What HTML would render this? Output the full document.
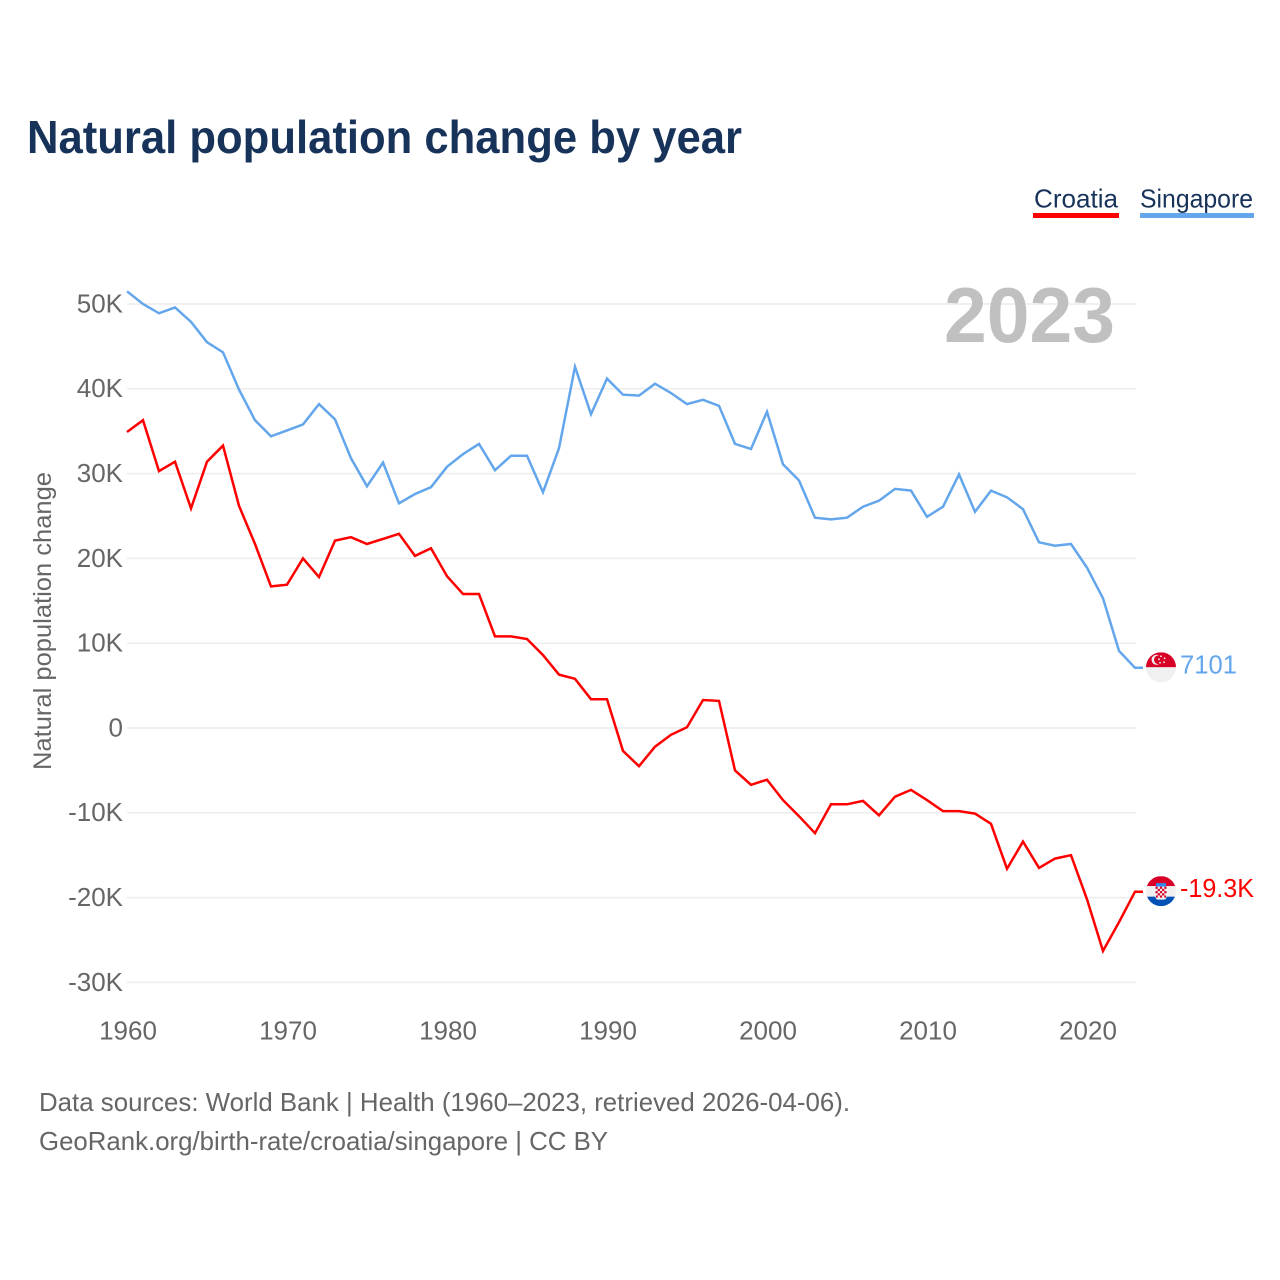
<!DOCTYPE html>
<html lang="en">
<head>
<meta charset="utf-8">
<title>Natural population change by year</title>
<style>
  html, body { margin: 0; padding: 0; background: #fff; }
  svg { display: block; }
  text { font-family: "Liberation Sans", sans-serif; }
</style>
</head>
<body>
<svg id="chart" xmlns="http://www.w3.org/2000/svg" width="1280" height="1280" viewBox="0 0 1280 1280">
  <defs>
    <clipPath id="flag-clip"><circle cx="0" cy="0" r="15"></circle></clipPath>
  </defs>
  <rect x="0" y="0" width="1280" height="1280" fill="#ffffff"></rect>

  <text x="27" y="153" font-size="46" font-weight="700" fill="#17335a" textLength="715" lengthAdjust="spacingAndGlyphs">Natural population change by year</text>

  <g>
    <g>
      <text x="1034" y="207.5" font-size="26" fill="#17335a" textLength="84" lengthAdjust="spacingAndGlyphs">Croatia</text>
      <rect x="1033" y="213" width="86" height="5" fill="#ff0000"></rect>
    </g>
    <g>
      <text x="1140" y="207.5" font-size="26" fill="#17335a" textLength="113" lengthAdjust="spacingAndGlyphs">Singapore</text>
      <rect x="1140" y="213" width="114" height="5" fill="#63a6ec"></rect>
    </g>
  </g>

  <g id="grid"></g>
  <g id="y-ticks"></g>
  <g id="x-ticks"></g>

  <text transform="translate(51 621) rotate(-90)" text-anchor="middle" font-size="25" fill="#666666" textLength="298" lengthAdjust="spacingAndGlyphs">Natural population change</text>

  <text x="944" y="342" font-size="78" font-weight="700" fill="#c0c0c0" textLength="171" lengthAdjust="spacingAndGlyphs">2023</text>

  <path id="line-singapore" fill="none" stroke="#63a6ec" stroke-width="2.5" stroke-linejoin="miter"></path>
  <path id="line-croatia" fill="none" stroke="#ff0000" stroke-width="2.5" stroke-linejoin="miter"></path>

  <g id="flag-singapore">
    <g clip-path="url(#flag-clip)">
      <rect x="-15" y="-15" width="30" height="15" fill="#d80027"></rect>
      <rect x="-15" y="0" width="30" height="15" fill="#f0f0f0"></rect>
      <circle cx="-4.5" cy="-7.5" r="5" fill="#f0f0f0"></circle>
      <circle cx="-2.6" cy="-7.5" r="4.4" fill="#d80027"></circle>
      <circle cx="0" cy="-11" r="0.9" fill="#f0f0f0"></circle>
      <circle cx="3.6" cy="-9" r="0.9" fill="#f0f0f0"></circle>
      <circle cx="3" cy="-5" r="0.9" fill="#f0f0f0"></circle>
      <circle cx="-1" cy="-4.5" r="0.9" fill="#f0f0f0"></circle>
      <circle cx="-2" cy="-8" r="0.9" fill="#f0f0f0"></circle>
    </g>
  </g>
  <g id="flag-croatia">
    <g clip-path="url(#flag-clip)">
      <rect x="-15" y="-15" width="30" height="10" fill="#d80027"></rect>
      <rect x="-15" y="-5" width="30" height="10.5" fill="#f0f0f0"></rect>
      <rect x="-15" y="5.5" width="30" height="10" fill="#0052b4"></rect>
      <rect x="-5" y="-8" width="10" height="3.5" fill="#338af3"></rect>
      <rect x="-5.5" y="-4.5" width="11" height="13" rx="2.5" fill="#f0f0f0"></rect>
      <g fill="#d80027">
        <rect x="-5.5" y="-4.5" width="2.2" height="2.2"></rect>
        <rect x="-1.1" y="-4.5" width="2.2" height="2.2"></rect>
        <rect x="3.3" y="-4.5" width="2.2" height="2.2"></rect>
        <rect x="-3.3" y="-2.3" width="2.2" height="2.2"></rect>
        <rect x="1.1" y="-2.3" width="2.2" height="2.2"></rect>
        <rect x="-5.5" y="-0.1" width="2.2" height="2.2"></rect>
        <rect x="-1.1" y="-0.1" width="2.2" height="2.2"></rect>
        <rect x="3.3" y="-0.1" width="2.2" height="2.2"></rect>
        <rect x="-3.3" y="2.1" width="2.2" height="2.2"></rect>
        <rect x="1.1" y="2.1" width="2.2" height="2.2"></rect>
        <rect x="-5" y="4.3" width="1.7" height="2.2"></rect>
        <rect x="-1.1" y="4.3" width="2.2" height="2.2"></rect>
        <rect x="3.3" y="4.3" width="1.7" height="2.2"></rect>
      </g>
    </g>
  </g>
  <text id="end-label-singapore" x="1180" font-size="26" fill="#63a6ec" textLength="57" lengthAdjust="spacingAndGlyphs">7101</text>
  <text id="end-label-croatia" x="1180" font-size="26" fill="#ff0000" textLength="74" lengthAdjust="spacingAndGlyphs">-19.3K</text>

  <text x="39" y="1111" font-size="26" fill="#666666" textLength="811" lengthAdjust="spacingAndGlyphs">Data sources: World Bank | Health (1960–2023, retrieved 2026-04-06).</text>
  <text x="39" y="1150" font-size="26" fill="#666666" textLength="569" lengthAdjust="spacingAndGlyphs">GeoRank.org/birth-rate/croatia/singapore | CC BY</text>
</svg>

<script>
const firstYear = 1960;
const xTickYears = [1960, 1970, 1980, 1990, 2000, 2010, 2020];
const yTickValues = [50, 40, 30, 20, 10, 0, -10, -20, -30];
const yTickLabels = ["50K", "40K", "30K", "20K", "10K", "0", "-10K", "-20K", "-30K"];
const singaporeValues = [51.5, 50.0, 48.9, 49.6, 47.9, 45.5, 44.3, 39.9, 36.3, 34.4, 35.1, 35.8, 38.2, 36.4, 31.8, 28.5, 31.3, 26.5, 27.6, 28.4, 30.8, 32.3, 33.5, 30.4, 32.1, 32.1, 27.8, 33.0, 42.6, 37.0, 41.2, 39.3, 39.2, 40.6, 39.5, 38.2, 38.7, 38.0, 33.5, 32.9, 37.3, 31.1, 29.2, 24.8, 24.6, 24.8, 26.1, 26.8, 28.2, 28.0, 24.9, 26.1, 29.9, 25.5, 28.0, 27.2, 25.8, 21.9, 21.5, 21.7, 18.9, 15.3, 9.1, 7.1];
const croatiaValues = [34.9, 36.3, 30.3, 31.4, 25.9, 31.4, 33.3, 26.2, 21.7, 16.7, 16.9, 20.0, 17.8, 22.1, 22.5, 21.7, 22.3, 22.9, 20.3, 21.2, 17.9, 15.8, 15.8, 10.8, 10.8, 10.5, 8.6, 6.3, 5.8, 3.4, 3.4, -2.7, -4.5, -2.2, -0.8, 0.1, 3.3, 3.2, -5.0, -6.7, -6.1, -8.5, -10.4, -12.4, -9.0, -9.0, -8.6, -10.3, -8.1, -7.3, -8.5, -9.8, -9.8, -10.1, -11.3, -16.6, -13.4, -16.5, -15.4, -15.0, -20.2, -26.3, -22.9, -19.3];

const SVG_NS = "http://www.w3.org/2000/svg";
function xScale(year) { return 127 + (year - 1960) * 16.0; }
function yScale(value) { return 728 - value * 8.48; }

const grid = document.getElementById("grid");
const yTicks = document.getElementById("y-ticks");
yTickValues.forEach(function (value, i) {
  const line = document.createElementNS(SVG_NS, "line");
  line.setAttribute("x1", 127);
  line.setAttribute("x2", 1136);
  line.setAttribute("y1", yScale(value));
  line.setAttribute("y2", yScale(value));
  line.setAttribute("stroke", "#ececec");
  line.setAttribute("stroke-width", "1.5");
  
  
  grid.appendChild(line);

  const label = document.createElementNS(SVG_NS, "text");
  label.setAttribute("x", 123);
  label.setAttribute("y", yScale(value) + 8.4);
  label.setAttribute("text-anchor", "end");
  label.setAttribute("font-size", "26");
  label.setAttribute("fill", "#666666");
  
  
  label.textContent = yTickLabels[i];
  yTicks.appendChild(label);
});

const xTicks = document.getElementById("x-ticks");
xTickYears.forEach(function (year) {
  const label = document.createElementNS(SVG_NS, "text");
  label.setAttribute("x", xScale(year) + 1);
  label.setAttribute("y", 1039.5);
  label.setAttribute("text-anchor", "middle");
  label.setAttribute("font-size", "26");
  label.setAttribute("fill", "#666666");
  
  
  label.textContent = year;
  xTicks.appendChild(label);
});

function linePath(values) {
  const pts = values.map(function (v, i) {
    return xScale(firstYear + i).toFixed(1) + " " + yScale(v).toFixed(1);
  });
  const lastX = xScale(firstYear + values.length - 1) + 8;
  const lastY = yScale(values[values.length - 1]);
  return "M" + pts.join(" L") + " L" + lastX.toFixed(1) + " " + lastY.toFixed(1);
}
document.getElementById("line-singapore").setAttribute("d", linePath(singaporeValues));
document.getElementById("line-croatia").setAttribute("d", linePath(croatiaValues));

const sgEndY = yScale(singaporeValues[singaporeValues.length - 1]);
const hrEndY = yScale(croatiaValues[croatiaValues.length - 1]);
document.getElementById("flag-singapore").setAttribute("transform", "translate(1161 " + (sgEndY - 0.5) + ")");
document.getElementById("flag-croatia").setAttribute("transform", "translate(1161 " + (hrEndY - 0.5) + ")");
document.getElementById("end-label-singapore").setAttribute("y", sgEndY + 5.5);
document.getElementById("end-label-croatia").setAttribute("y", hrEndY + 5.5);
</script>
</body>
</html>
